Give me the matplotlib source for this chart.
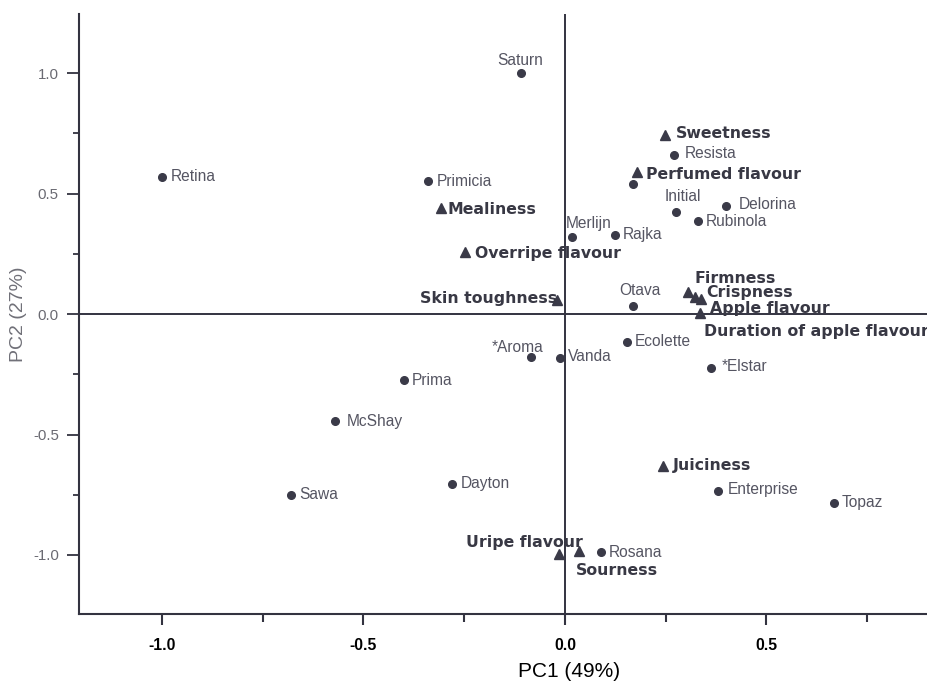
import numpy as np
import matplotlib
matplotlib.use('Agg')
import matplotlib.pyplot as plt
from matplotlib.ticker import MultipleLocator

plt.rcParams['font.family'] = ['Liberation Sans', 'DejaVu Sans']

# PCA scores of the apple cultivars
cultivars = ['Saturn', 'Retina', 'Primicia', 'Resista', '', 'Initial', 'Delorina',
             'Rubinola', 'Merlijn', 'Rajka', 'Otava', 'Ecolette', 'Vanda',
             '*Aroma', '*Elstar', 'Prima', 'McShay', 'Sawa', 'Dayton',
             'Enterprise', 'Topaz', 'Rosana']
cult_pc1 = [-0.11, -1.00, -0.34, 0.27, 0.17, 0.275, 0.40, 0.33, 0.017, 0.124,
            0.17, 0.153, -0.012, -0.084, 0.362, -0.40, -0.57, -0.68, -0.28,
            0.38, 0.667, 0.089]
cult_pc2 = [1.00, 0.57, 0.55, 0.66, 0.54, 0.423, 0.45, 0.386, 0.32, 0.328,
            0.033, -0.115, -0.182, -0.18, -0.224, -0.275, -0.444, -0.75, -0.705,
            -0.734, -0.784, -0.988]

# PCA loadings of the sensory attributes
attributes = ['Sweetness', 'Perfumed flavour', 'Mealiness', 'Overripe flavour',
              'Skin toughness', 'Firmness', 'Crispness', 'Apple flavour',
              'Duration of apple flavour', 'Juiciness', 'Uripe flavour', 'Sourness']
attr_pc1 = [0.248, 0.178, -0.308, -0.248, -0.02, 0.305, 0.322, 0.337, 0.335,
            0.243, -0.015, 0.035]
attr_pc2 = [0.743, 0.59, 0.44, 0.257, 0.058, 0.09, 0.072, 0.062, 0.004,
            -0.63, -0.996, -0.983]

# label placement (offset in points, horizontal alignment)
cult_offsets = {
    'Saturn': (0, 9, 'center'), 'Initial': (5, 11, 'center'),
    'Otava': (5, 11, 'center'), 'Merlijn': (-4, 10, 'left'),
    '*Aroma': (9, 7, 'right'), 'Delorina': (9, 1, 'left'),
    '*Elstar': (8, 1, 'left'), 'Enterprise': (7, 1, 'left'),
    'Resista': (8, 1, 'left'), 'McShay': (8, 0, 'left'),
    'Vanda': (6, 1, 'left'),
}
attr_offsets = {
    'Sweetness': (8, 1, 'left'), 'Perfumed flavour': (7, -2, 'left'),
    'Mealiness': (5, -1, 'left'), 'Overripe flavour': (7, -1, 'left'),
    'Skin toughness': (0, 1, 'right'), 'Firmness': (5, 10, 'left'),
    'Crispness': (8, 3, 'left'), 'Apple flavour': (6.5, -7, 'left'),
    'Duration of apple flavour': (3, -13.5, 'left'), 'Juiciness': (7, 0, 'left'),
    'Uripe flavour': (-25, 8, 'center'), 'Sourness': (-2, -14, 'left'),
}

pt_color = '#3a3a48'
fig = plt.figure(figsize=(9.28, 6.81), dpi=100)
ax = fig.add_axes([0.0851, 0.098, 0.9149, 0.8814])

ax.set_xlim(-1.206, 0.901)
ax.set_ylim(-1.246, 1.245)

ax.axhline(0, color='#333340', lw=1.4, zorder=1)
ax.axvline(0, color='#333340', lw=1.4, zorder=1)

ax.plot(cult_pc1, cult_pc2, 'o', ms=5.5, color=pt_color, zorder=3)
ax.plot(attr_pc1, attr_pc2, '^', ms=7, color=pt_color, zorder=3)

for name, x, y in zip(cultivars, cult_pc1, cult_pc2):
    if not name:
        continue
    dx, dy, ha = cult_offsets.get(name, (6, 0, 'left'))
    ax.annotate(name, (x, y), xytext=(dx, dy), textcoords='offset points',
                ha=ha, va='center', fontsize=11.2, color='#555562')

for name, x, y in zip(attributes, attr_pc1, attr_pc2):
    dx, dy, ha = attr_offsets[name]
    ax.annotate(name, (x, y), xytext=(dx, dy), textcoords='offset points',
                ha=ha, va='center', fontsize=11.3, fontweight='bold',
                family='DejaVu Sans', color='#383844')

for side in ['top', 'right']:
    ax.spines[side].set_visible(False)
for side in ['left', 'bottom']:
    ax.spines[side].set_color('#333340')
    ax.spines[side].set_linewidth(1.5)

ax.xaxis.set_major_locator(MultipleLocator(0.5))
ax.xaxis.set_minor_locator(MultipleLocator(0.25))
ax.yaxis.set_major_locator(MultipleLocator(0.5))
ax.yaxis.set_minor_locator(MultipleLocator(0.25))
ax.tick_params(axis='y', which='major', length=8.5, width=1.3, color='#333340',
               labelsize=10.8, labelcolor='#6a6a72', pad=6)
ax.tick_params(axis='y', which='minor', length=4.5, width=1.3, color='#333340')
ax.tick_params(axis='x', which='major', length=8, width=1.5, color='#333340',
               labelsize=11.3, labelcolor='black', pad=9)
ax.tick_params(axis='x', which='minor', length=6, width=1.5, color='#333340')
for lbl in ax.get_xticklabels():
    lbl.set_fontweight('bold')
ax.yaxis.set_major_formatter(plt.FuncFormatter(lambda v, p: f'{v:.1f}'))
ax.xaxis.set_major_formatter(plt.FuncFormatter(lambda v, p: f'{v:.1f}'))

ax.text(-0.071, 0.5, 'PC2 (27%)', transform=ax.transAxes, rotation=90,
        ha='center', va='center', fontsize=14, color='#707078')
ax.text(0.577, -0.095, 'PC1 (49%)', transform=ax.transAxes,
        ha='center', va='center', fontsize=15, color='black')

fig.savefig('out.png', dpi=100)
